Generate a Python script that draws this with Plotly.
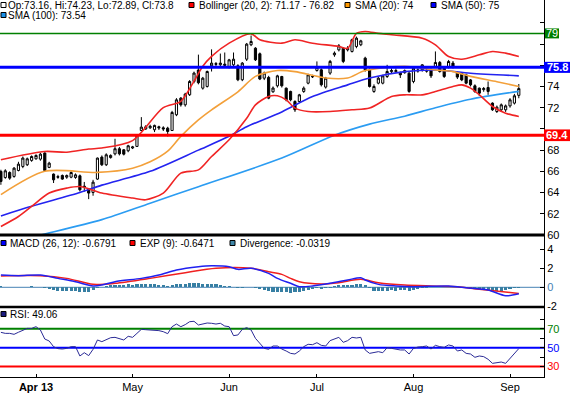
import plotly.graph_objects as go

# ---------------- data ----------------
# trading-day index 0..118 (19 Mar 2013 .. 5 Sep 2013)
open_ = [65.99, 65.42, 65.89, 65.52, 66.08, 66.46, 66.62, 67.03, 67.18, 67.15,
         67.72, 66.37, 65.74, 65.50, 65.61, 65.45, 65.45, 65.42, 65.58, 64.60,
         64.32, 64.01, 65.27, 67.34, 66.62, 67.30, 67.65, 68.13, 68.03, 67.94,
         68.20, 68.35, 69.85, 70.00, 70.10, 69.92, 70.20, 70.10, 70.07, 69.85,
         71.33, 72.90, 72.27, 73.22, 74.47, 75.55, 73.84, 74.00, 75.95, 76.15,
         76.05, 76.10, 75.88, 76.04, 75.95, 74.63, 76.57, 77.93, 77.61, 77.08,
         74.78, 74.85, 73.50, 74.06, 74.94, 73.84, 73.53, 72.58, 72.58, 73.53,
         74.31, 74.90, 75.51, 75.57, 73.94, 75.26, 76.98, 77.45, 77.61, 77.45,
         77.30, 77.77, 77.93, 76.67, 75.57, 73.53, 74.31, 74.31, 74.94, 75.40,
         75.40, 75.25, 75.30, 75.25, 74.47, 75.45, 75.57, 75.50, 75.57, 75.88,
         76.26, 75.72, 75.82, 76.20, 75.32, 75.25, 75.10, 74.62, 74.06, 73.84,
         73.70, 73.90, 72.43, 71.64, 71.80, 71.80, 72.17, 72.43, 73.16]
high = [66.15, 66.20, 66.00, 66.40, 66.90, 67.40, 67.30, 67.50, 67.60, 67.75,
        67.80, 66.90, 65.80, 65.67, 65.70, 65.70, 66.00, 65.80, 65.70, 65.00,
        64.40, 65.20, 67.30, 67.50, 67.70, 67.60, 69.07, 68.30, 68.10, 68.50,
        68.40, 69.50, 71.11, 70.35, 70.40, 70.40, 70.30, 70.25, 70.20, 71.70,
        72.90, 73.00, 73.40, 74.60, 75.40, 77.00, 74.90, 75.50, 77.50, 76.30,
        77.10, 77.20, 76.60, 77.20, 76.10, 76.30, 78.10, 78.80, 77.70, 77.20,
        75.40, 75.00, 74.00, 75.10, 75.00, 73.90, 73.60, 72.70, 73.30, 74.00,
        75.20, 75.10, 76.36, 75.70, 74.90, 76.50, 77.30, 78.00, 77.70, 77.80,
        78.50, 78.70, 78.40, 76.80, 75.70, 74.20, 74.90, 75.10, 76.04, 75.70,
        75.70, 75.40, 75.60, 75.40, 75.80, 75.70, 76.10, 75.70, 75.70, 77.30,
        76.40, 75.80, 76.50, 76.40, 75.40, 75.30, 75.20, 74.70, 74.20, 73.90,
        73.95, 74.47, 72.50, 72.20, 72.40, 72.30, 72.90, 73.30, 74.23]
low = [64.73, 65.30, 65.20, 65.40, 66.00, 66.30, 66.50, 66.90, 67.10, 67.00,
       66.00, 66.30, 64.90, 65.30, 65.20, 65.30, 65.35, 65.30, 64.10, 64.10,
       63.38, 63.70, 65.20, 66.50, 66.50, 67.20, 67.50, 67.50, 67.50, 67.80,
       68.10, 68.30, 69.80, 69.90, 70.00, 69.70, 69.90, 69.80, 69.29, 69.80,
       71.20, 72.10, 72.10, 73.10, 74.30, 74.20, 73.70, 73.90, 75.41, 75.90,
       75.90, 75.80, 75.70, 75.90, 74.50, 74.50, 76.40, 77.80, 76.40, 74.60,
       74.60, 72.80, 73.40, 73.90, 73.90, 72.60, 72.60, 71.60, 72.50, 73.40,
       74.20, 74.80, 75.40, 74.00, 73.80, 75.10, 76.80, 77.30, 76.20, 77.30,
       77.20, 77.60, 77.80, 75.40, 73.90, 73.40, 74.20, 74.20, 74.80, 75.20,
       75.30, 74.80, 75.20, 73.40, 74.30, 75.30, 75.40, 75.30, 74.80, 75.80,
       75.30, 74.80, 75.70, 75.70, 74.70, 74.50, 74.20, 74.00, 73.40, 73.10,
       73.50, 73.21, 71.70, 71.50, 71.60, 71.60, 72.00, 72.30, 72.89]
close = [65.05, 66.05, 65.36, 66.30, 66.68, 67.25, 67.18, 67.40, 67.50, 67.62,
         66.08, 66.77, 65.20, 65.45, 65.27, 65.60, 65.89, 65.67, 64.26, 64.50,
         63.95, 64.98, 67.25, 66.62, 67.56, 67.50, 68.13, 67.65, 67.62, 68.41,
         68.30, 69.38, 70.17, 70.20, 70.25, 70.33, 70.10, 70.00, 69.76, 71.55,
         72.74, 72.27, 73.28, 74.47, 75.26, 74.35, 74.78, 75.41, 76.20, 76.10,
         76.20, 76.00, 76.51, 76.57, 74.63, 76.20, 77.99, 78.24, 76.51, 74.70,
         75.26, 72.90, 73.85, 75.00, 74.06, 72.74, 72.74, 71.80, 73.21, 73.84,
         75.10, 74.94, 75.82, 74.16, 74.78, 76.36, 77.14, 77.83, 76.36, 77.61,
         78.40, 78.55, 78.30, 75.57, 74.00, 74.00, 74.78, 75.00, 75.41, 75.50,
         75.50, 75.10, 75.50, 73.53, 75.72, 75.55, 76.04, 75.45, 75.00, 76.26,
         75.41, 74.94, 76.35, 75.88, 74.88, 74.62, 74.31, 74.15, 73.53, 73.37,
         73.80, 73.53, 71.80, 72.05, 72.27, 72.17, 72.74, 73.12, 73.80]

month_tick_idx = [8, 30, 52, 72, 94, 116]
month_labels = ["<b>Apr 13</b>", "May", "Jun", "Jul", "Aug", "Sep"]

bb_up_idx = [0, 10, 15, 20, 23, 30, 37, 41, 44, 46, 48, 52, 57, 59, 64, 67, 71, 77, 79,
             81, 83, 86, 89, 96, 99, 102, 105, 109, 112, 115, 118]
bb_up = [67.1, 67.87, 67.8, 68.1, 68.2, 68.9, 72.0, 72.6, 74.5, 75.9, 76.83, 78.08, 78.96,
         78.4, 78.08, 78.4, 78.08, 77.77, 77.6, 79.0, 79.18, 79.0, 78.87, 78.55, 77.92,
         76.82, 76.57, 76.98, 77.3, 77.14, 76.82]
bb_lo_idx = [0, 4, 7, 11, 15, 18, 23, 30, 33, 37, 41, 45, 48, 52, 56, 58, 61, 63, 65, 67,
             70, 75, 80, 84, 89, 92, 96, 99, 103, 105, 107, 109, 112, 115, 118]
bb_lo = [60.8, 61.74, 62.69, 63.95, 64.42, 64.57, 63.95, 63.48, 63.32, 63.95, 65.83, 66.14,
         67.4, 68.97, 71.0, 72.27, 73.06, 73.12, 72.74, 71.96, 71.64, 71.64, 71.8, 71.96,
         73.05, 73.21, 73.21, 73.53, 74.0, 74.15, 73.84, 73.21, 72.11, 71.48, 71.17]
sma20_idx = [0, 10, 22, 30, 34, 38, 41, 45, 48, 54, 58, 63, 67, 74, 79, 83, 92, 99, 103,
             107, 113, 118]
sma20 = [63.8, 66.0, 65.9, 66.3, 66.9, 67.9, 69.3, 70.85, 71.8, 73.5, 74.95, 75.5, 75.4,
         74.8, 74.8, 75.5, 75.9, 75.55, 75.4, 74.95, 74.45, 74.0]
sma50_idx = [0, 7, 18, 23, 34, 45, 52, 56, 64, 71, 79, 84, 92, 99, 107, 118]
sma50 = [61.8, 62.7, 64.0, 64.7, 66.0, 68.0, 69.3, 70.2, 71.6, 73.05, 74.15, 74.8, 75.4,
         75.55, 75.25, 75.0]
sma100_idx = [0, 9, 23, 34, 45, 64, 76, 84, 92, 99, 107, 118]
sma100 = [59.1, 60.0, 61.45, 63.0, 64.55, 67.25, 69.4, 70.45, 71.2, 72.0, 72.8, 73.54]

level_values = [79.0, 75.8, 69.4]
level_labels = ["79", "75.8", "69.4"]

macd_idx = [0, 4, 9, 13, 17, 21, 23, 26, 32, 36, 40, 45, 48, 52, 54, 57, 61, 63, 66, 68,
            71, 75, 79, 82, 83, 86, 90, 94, 102, 106, 111, 115, 118]
macd = [1.29, 1.22, 1.29, 0.94, 0.59, 0.14, 0.24, 0.59, 0.94, 1.29, 1.82, 2.17, 2.27, 2.17,
        1.89, 2.0, 1.47, 0.94, 0.42, 0.07, 0.14, 0.42, 0.77, 1.01, 0.77, 0.31, 0.14, 0.07,
        0.14, -0.04, -0.28, -0.88, -0.6791]
exp_idx = [0, 9, 15, 21, 26, 34, 42, 49, 57, 61, 64, 66, 68, 73, 77, 82, 86, 92, 98, 104,
           109, 118]
exp9 = [1.19, 1.22, 0.94, 0.31, 0.42, 0.94, 1.54, 2.0, 2.0, 1.64, 1.36, 0.94, 0.59, 0.35,
        0.49, 0.84, 0.49, 0.24, 0.14, 0.07, -0.21, -0.6471]
divergence = [0.10, 0.03, 0.0, 0.02, 0.02, 0.03, 0.05, 0.14, 0.05, 0.02,
              -0.03, -0.14, -0.28, -0.39, -0.39, -0.39, -0.35, -0.39, -0.46, -0.46,
              -0.46, -0.28, -0.10, 0.07, 0.14, 0.20, 0.25, 0.28, 0.28, 0.32,
              0.28, 0.32, 0.39, 0.39, 0.39, 0.35, 0.28, 0.21, 0.18, 0.21,
              0.32, 0.35, 0.39, 0.42, 0.49, 0.46, 0.39, 0.39, 0.35, 0.32,
              0.25, 0.18, 0.14, 0.07, -0.10, -0.07, 0.07, 0.03, -0.10, -0.21,
              -0.28, -0.42, -0.49, -0.49, -0.46, -0.49, -0.56, -0.53, -0.49, -0.42,
              -0.28, -0.18, -0.10, -0.14, -0.10, -0.03, 0.14, 0.21, 0.21, 0.25,
              0.25, 0.32, 0.32, 0.25, -0.10, -0.39, -0.42, -0.35, -0.35, -0.32,
              -0.35, -0.32, -0.28, -0.39, -0.28, -0.18, -0.10, -0.03, 0.02, 0.03,
              0.02, 0.0, 0.03, 0.02, -0.02, -0.05, -0.08, -0.14, -0.21, -0.21,
              -0.25, -0.28, -0.35, -0.39, -0.35, -0.28, -0.21, -0.07, -0.0319]
rsi = [66.3, 65.2, 65.2, 64.2, 66.4, 68.8, 70.5, 70.5, 72.3, 68.8,
       59.2, 57.1, 51.1, 49.0, 48.6, 49.3, 51.1, 51.1, 41.2, 44.7,
       41.6, 48.3, 58.2, 56.4, 58.9, 60.6, 61.0, 59.6, 58.2, 62.1,
       61.0, 65.2, 69.5, 69.1, 68.8, 68.8, 68.1, 67.0, 64.9, 72.3,
       75.1, 72.3, 74.5, 77.6, 78.0, 74.1, 74.8, 76.2, 75.9, 75.1,
       75.9, 73.0, 72.3, 62.8, 63.5, 69.5, 71.3, 68.8, 59.9, 54.6,
       49.3, 48.3, 51.8, 51.8, 48.6, 46.5, 44.0, 43.3, 46.5, 51.1,
       53.6, 53.2, 55.3, 52.5, 51.8, 57.5, 59.2, 61.0, 55.7, 57.5,
       61.0, 60.3, 61.0, 47.6, 44.0, 44.7, 45.8, 44.7, 50.0, 49.3,
       48.3, 47.6, 47.6, 43.3, 49.3, 50.7, 51.1, 51.8, 48.6, 52.5,
       51.1, 50.4, 52.9, 51.8, 46.5, 47.6, 44.0, 43.3, 39.8, 41.2,
       40.5, 37.7, 33.4, 34.4, 34.8, 33.4, 38.7, 43.3, 49.06]
rsi_levels = [70, 50, 30]

# ---------------- geometry helpers ----------------
W, H = 571, 393
MR, MB = 27, 16
PW, PH = W - MR, H - MB          # plot area 544 x 377


def pxx(x):
    return x / PW


def pxy(y):
    return (PH - y) / PH


idx = list(range(len(close)))
FONT = "Arial, Liberation Sans, sans-serif"

fig = go.Figure()

fig.add_trace(go.Candlestick(
    x=idx, open=open_, high=high, low=low, close=close,
    increasing=dict(line=dict(color="black", width=1), fillcolor="white"),
    decreasing=dict(line=dict(color="black", width=1), fillcolor="black"),
    whiskerwidth=0, xaxis="x", yaxis="y", hoverinfo="skip"))

line_specs = [
    (sma100_idx, sma100, "#2b9cf2", 1.6),
    (sma50_idx, sma50, "#2323f0", 1.6),
    (sma20_idx, sma20, "#f3a03a", 1.6),
    (bb_up_idx, bb_up, "#f02424", 1.6),
    (bb_lo_idx, bb_lo, "#f02424", 1.6),
]
for xs, ys, col, w in line_specs:
    fig.add_trace(go.Scatter(x=xs, y=ys, mode="lines", xaxis="x", yaxis="y",
                             line=dict(color=col, width=w, shape="spline", smoothing=0.8),
                             hoverinfo="skip"))

fig.add_trace(go.Bar(x=idx, y=divergence, width=0.7, marker=dict(color="#377fa3", line=dict(width=0)),
                     xaxis="x", yaxis="y2", hoverinfo="skip"))
fig.add_trace(go.Scatter(x=exp_idx, y=exp9, mode="lines", xaxis="x", yaxis="y2",
                         line=dict(color="#f02020", width=1.5, shape="spline", smoothing=0.8),
                         hoverinfo="skip"))
fig.add_trace(go.Scatter(x=macd_idx, y=macd, mode="lines", xaxis="x", yaxis="y2",
                         line=dict(color="#2020f0", width=1.5, shape="spline", smoothing=0.8),
                         hoverinfo="skip"))
fig.add_trace(go.Scatter(x=idx, y=rsi, mode="lines", xaxis="x", yaxis="y3",
                         line=dict(color="#2a2a96", width=1), hoverinfo="skip"))

shapes = []
# level lines in price panel
level_colors = ["#008000", "#0000ff", "#ff0000"]
level_widths = [1.5, 3, 3]
for v, c, w in zip(level_values, level_colors, level_widths):
    shapes.append(dict(type="line", xref="paper", x0=0, x1=1, yref="y", y0=v, y1=v,
                       line=dict(color=c, width=w), layer="above"))
# RSI levels
for v, c in zip(rsi_levels, ["#008000", "#0000ff", "#ff0000"]):
    shapes.append(dict(type="line", xref="paper", x0=0, x1=1, yref="y3", y0=v, y1=v,
                       line=dict(color=c, width=2), layer="below"))
# MACD zero line
shapes.append(dict(type="line", xref="paper", x0=0, x1=1, yref="y2", y0=0, y1=0,
                   line=dict(color="#4682b4", width=1), layer="below"))
# panel separators
shapes.append(dict(type="line", xref="paper", x0=0, x1=1, yref="paper", y0=pxy(235), y1=pxy(235),
                   line=dict(color="black", width=3), layer="above"))
shapes.append(dict(type="line", xref="paper", x0=0, x1=1, yref="paper", y0=pxy(307), y1=pxy(307),
                   line=dict(color="black", width=2.5), layer="above"))

annotations = []
# boxes for levels
box_specs = [(79.0, "79", "#008000", 545, 559, 0.47, False),
             (75.8, "75.8", "#0000ff", 544, 570, 0.52, True),
             (69.4, "69.4", "#ff0000", 544, 570, 0.55, True)]
for v, t, c, x0, x1, hh, bold in box_specs:
    shapes.append(dict(type="rect", xref="paper", x0=pxx(x0), x1=pxx(x1), yref="y",
                       y0=v - hh, y1=v + hh, fillcolor=c, line=dict(width=0), layer="above"))
    annotations.append(dict(xref="paper", x=pxx((x0 + x1) / 2), yref="y", y=v, text=(f"<b>{t}</b>" if bold else t),
                            showarrow=False, xanchor="center", yanchor="middle",
                            font=dict(color="white", size=11, family=FONT)))

# legend items: (square x, y center, color, text x, text)
legend_items = [
    (1, 5, "white", 7, f"Op:{open_[-1]}, Hi:{high[-1]}, Lo:{low[-1]}, Cl:{close[-1]}"),
    (189, 5, "#ff0000", 198, f"Bollinger (20, 2): {bb_lo[-1]} - {bb_up[-1]}"),
    (345, 5, "#ff9900", 354, f"SMA (20): {sma20[-1]:g}"),
    (431, 5, "#0000ff", 440, f"SMA (50): {sma50[-1]:g}"),
    (1, 15, "#1a90e8", 7, f"SMA (100): {sma100[-1]}"),
    (1, 243, "#0000ff", 9, f"MACD (26, 12): {macd[-1]}"),
    (130, 243, "#ff0000", 139, f"EXP (9): {exp9[-1]}"),
    (230, 243, "#3f87a8", 239, f"Divergence: {divergence[-1]}"),
    (1, 314, "#1a1a80", 9, f"RSI: {rsi[-1]}"),
]
for sx, cy, col, tx, txt in legend_items:
    shapes.append(dict(type="rect", xref="paper", yref="paper", x0=pxx(sx), x1=pxx(sx + 5),
                       y0=pxy(cy + 2.5), y1=pxy(cy - 2.5), fillcolor=col,
                       line=dict(color="black", width=1), layer="above"))
    annotations.append(dict(xref="paper", yref="paper", x=pxx(tx - 1.5), y=pxy(cy), text=txt,
                            showarrow=False, xanchor="left", yanchor="middle",
                            font=dict(color="black", size=10, family=FONT)))

axis_common = dict(showgrid=False, zeroline=False, showline=True, linecolor="black", linewidth=1,
                   ticks="inside", ticklen=4, tickcolor="black", side="right", anchor="x",
                   tickfont=dict(size=11, color="black", family=FONT), fixedrange=True)

main_ticks = list(range(60, 82, 2))
main_text = [str(v) if v in (60, 62, 64, 66, 68, 72, 74) else "" for v in main_ticks]
macd_ticks = [-2, 0, 2, 4]
macd_text = ["-2", "<span style='color:#4682b4'>0</span>", "2", "4"]
rsi_ticks = [30, 40, 50, 60, 70, 80]
rsi_text = ["<span style='color:#ff0000'>30</span>", "", "<span style='color:#0000ff'>50</span>", "",
            "<span style='color:#008000'>70</span>", ""]

fig.update_layout(
    width=W, height=H,
    margin=dict(l=0, r=MR, t=0, b=MB, pad=0),
    paper_bgcolor="white", plot_bgcolor="white",
    showlegend=False, bargap=0,
    xaxis=dict(domain=[0, 1], range=[-0.205, 123.74], anchor="y3",
               tickmode="array", tickvals=month_tick_idx, ticktext=month_labels,
               ticks="inside", ticklen=3, tickcolor="black", showgrid=False, zeroline=False,
               showline=True, linecolor="black", linewidth=1,
               tickfont=dict(size=11, color="black", family=FONT),
               rangeslider=dict(visible=False), fixedrange=True),
    yaxis=dict(domain=[pxy(235), 1], range=[60, 60 + 235 / 10.61],
               tickmode="array", tickvals=main_ticks, ticktext=main_text, **axis_common),
    yaxis2=dict(domain=[pxy(307), pxy(235)], range=[-19.7 / 9.5, 52.3 / 9.5],
                tickmode="array", tickvals=macd_ticks, ticktext=macd_text, **axis_common),
    yaxis3=dict(domain=[0, pxy(307)], range=[50 - 29.3 / 0.9425, 50 + 40.7 / 0.9425],
                tickmode="array", tickvals=rsi_ticks, ticktext=rsi_text, **axis_common),
    shapes=shapes, annotations=annotations,
)

fig.write_html("out.html", config={"displayModeBar": False, "staticPlot": True},
               post_script="document.body.style.margin='0';document.body.style.padding='0';")
